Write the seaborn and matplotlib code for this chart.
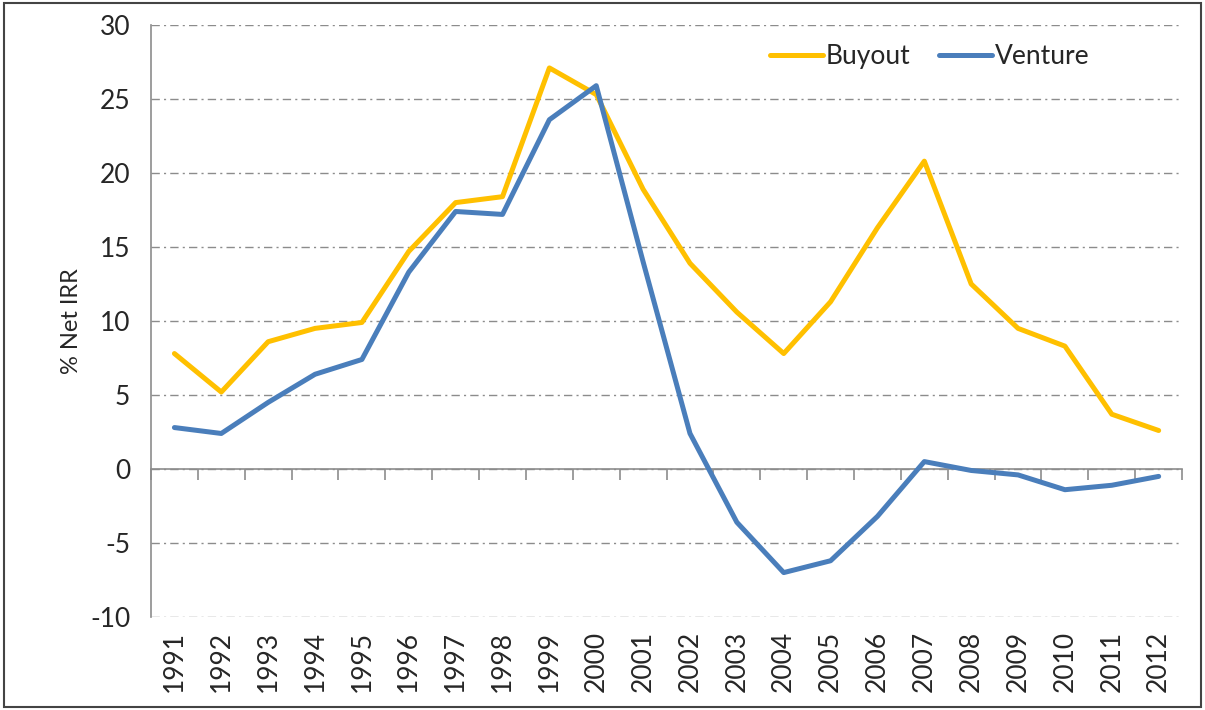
import seaborn as sns
import matplotlib.pyplot as plt
import pandas as pd
import numpy as np
from matplotlib.patches import Rectangle

years = list(range(1991, 2013))
buyout = [7.8, 5.2, 8.6, 9.5, 9.9, 14.7, 18.0, 18.4, 27.1, 25.3, 18.9,
          13.9, 10.6, 7.8, 11.3, 16.3, 20.8, 12.5, 9.5, 8.3, 3.7, 2.6]
venture = [2.8, 2.4, 4.5, 6.4, 7.4, 13.3, 17.4, 17.2, 23.6, 25.9, 14.0,
           2.4, -3.6, -7.0, -6.2, -3.2, 0.5, -0.1, -0.4, -1.4, -1.1, -0.5]

df = pd.DataFrame({"year": years * 2,
                   "irr": buyout + venture,
                   "series": ["Buyout"] * len(years) + ["Venture"] * len(years)})

sns.set_style("white")
plt.rcParams["font.family"] = ["Lato", "DejaVu Sans"]
plt.rcParams["axes.unicode_minus"] = False

fig = plt.figure(figsize=(12.05, 7.10), dpi=100)
ax = fig.add_axes([0.1253, 0.131, 0.8557, 0.8338])

sns.lineplot(data=df, x="year", y="irr", hue="series",
             palette={"Buyout": "#FFC000", "Venture": "#4A7EBB"},
             linewidth=3.6, ax=ax)

ax.set_xlim(1990.5, 2012.5)
ax.set_ylim(-10, 30)
ax.set_yticks(np.arange(-10, 31, 5))
ax.yaxis.grid(True, linestyle=(0, (6, 3, 1.5, 3)), color="#8c8c8c", linewidth=1)
ax.set_axisbelow(True)

for s in ["top", "right", "bottom"]:
    ax.spines[s].set_visible(False)
ax.spines["left"].set_color("#8c8c8c")
ax.spines["left"].set_linewidth(1.2)

ax.tick_params(axis="y", direction="out", length=8, color="#8c8c8c",
               labelsize=19, pad=7)
ax.set_xticks(years)
ax.set_xticklabels([str(y) for y in years], rotation=90, fontsize=19)
ax.tick_params(axis="x", length=0, pad=10)
ax.set_xlabel("")
ax.set_ylabel("% Net IRR", fontsize=17, labelpad=6)

# zero axis line with category separators
sec = ax.secondary_xaxis(0.25)
sec.set_xticks([y - 0.5 for y in years] + [2012.5])
sec.tick_params(axis="x", direction="out", length=8, color="#8c8c8c",
                width=1.2, labelbottom=False)
sec.spines["bottom"].set_color("#8c8c8c")
sec.spines["bottom"].set_linewidth(1.2)

leg = ax.legend(loc="upper right", ncol=2, frameon=False, fontsize=19,
                handlelength=2.0, columnspacing=1.1, handletextpad=0.1,
                bbox_to_anchor=(0.933, 1.008))
for line in leg.get_lines():
    line.set_linewidth(3.6)

fig.patches.append(Rectangle((0.003, 0.004), 0.994, 0.992, transform=fig.transFigure,
                             fill=False, edgecolor="#444444", linewidth=1.5))

plt.savefig("out.png", dpi=100)
